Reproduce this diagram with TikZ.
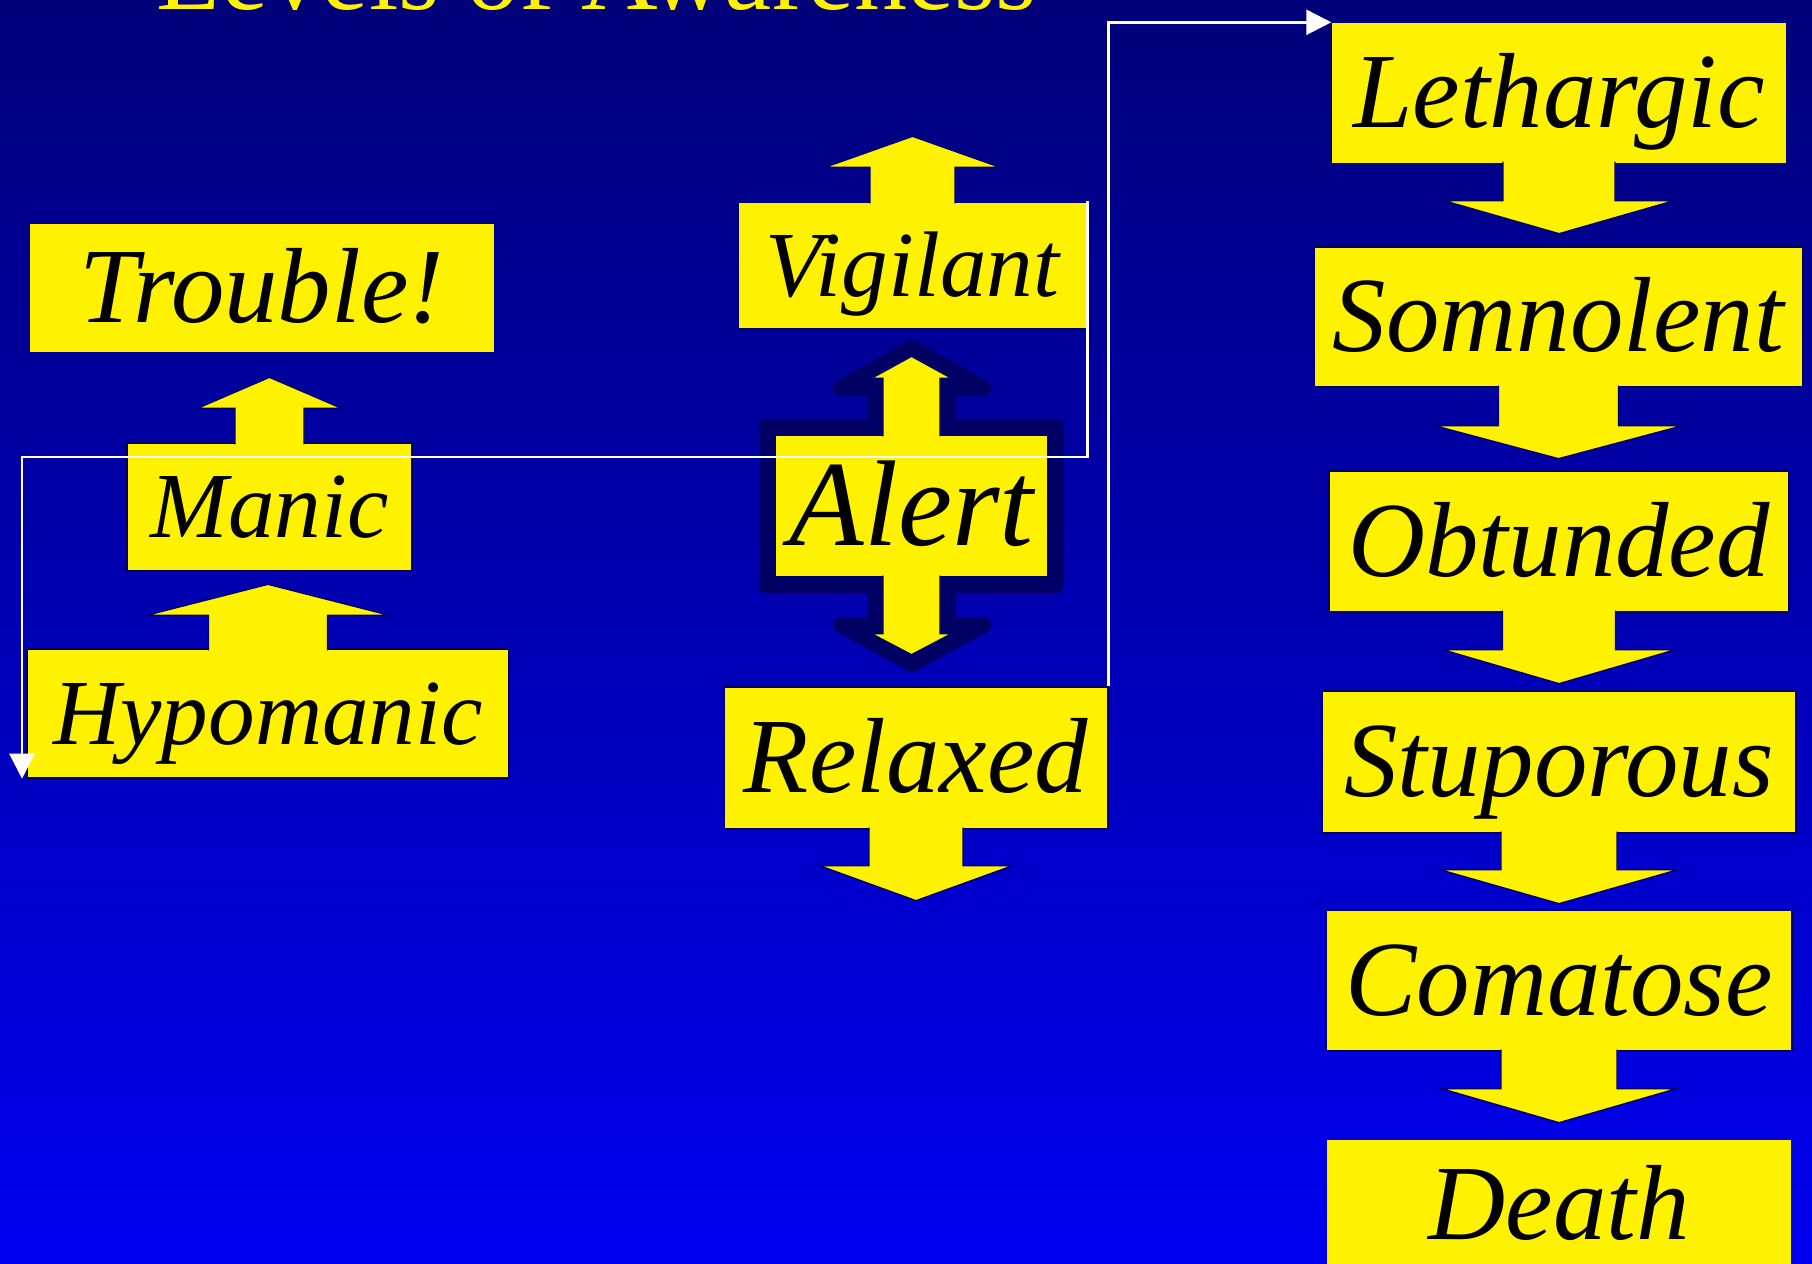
\documentclass[tikz,border=0pt]{standalone}
\usepackage{fontspec}
\setmainfont{Liberation Serif}
\usepackage{tikz}
\usetikzlibrary{arrows.meta}

\definecolor{bgtop}{RGB}{0,0,120}
\definecolor{bgbottom}{RGB}{0,0,240}
\definecolor{boxline}{RGB}{0,0,110}
\definecolor{haloblue}{RGB}{0,0,100}

\tikzset{
  stage/.style={fill=yellow,draw=boxline,line width=0.4pt,inner sep=0pt,
    font=\itshape\fontsize{30.4}{36}\selectfont,text height=19.9pt,text depth=0pt},
  smallstage/.style={stage,font=\itshape\fontsize{26.5}{32}\selectfont,text height=17.4pt},
  bigstage/.style={stage,font=\itshape\fontsize{34.7}{42}\selectfont,text height=22.7pt},
  bare/.style={draw=none},
  arrowbody/.style={fill=yellow,draw=boxline,line width=0.4pt},
  halo/.style={fill=haloblue,draw=haloblue,line width=1.6mm,line join=round},
  link/.style={draw=white,line width=0.7pt,-{Triangle[length=2.5mm,width=2.5mm]}},
  heading/.style={text=yellow,anchor=base,inner sep=0pt,
    font=\fontsize{30.2}{36}\selectfont}
}

\newcommand{\blockarrow}[6]{%
  \begin{scope}[shift={(#1)},yscale=#2]
    \filldraw[arrowbody]
      (-#5,-2)
      --
      (-#5,#3)
      --
      (-#6,#3)
      --
      (0,#3+#4)
      --
      (#6,#3)
      --
      (#5,#3)
      --
      (#5,-2);
  \end{scope}}

\begin{document}
\begin{tikzpicture}[x=0.1mm,y=-0.1mm]
  \useasboundingbox
    (0,0)
    rectangle
    (1812,1264);
  \clip
    (0,0)
    rectangle
    (1812,1264);
  \shade[top color=bgtop,bottom color=bgbottom]
    (0,0)
    rectangle
    (1812,1264);
  \node[heading] (title) at (597,10) {Levels of Awareness};

  \filldraw[halo]
    (767,427) -- (875,427) -- (875,388) -- (841,388) -- (912,348)
    -- (983,388) -- (948,388) -- (948,427) -- (1056,427) -- (1056,585)
    -- (948,585) -- (948,625) -- (983,625) -- (912,664) -- (841,625)
    -- (875,625) -- (875,585) -- (767,585) -- cycle;

  \node[stage,bare,minimum width=46.4mm,minimum height=12.8mm]
    (Trouble) at (262,288) {Trouble!};
  \node[smallstage,minimum width=28.5mm,minimum height=12.8mm]
    (Manic) at (269.5,507) {Manic};
  \node[smallstage,minimum width=48.2mm,minimum height=12.9mm]
    (Hypomanic) at (268,713.5) {Hypomanic};

  \node[smallstage,minimum width=34.9mm,minimum height=12.7mm]
    (Vigilant) at (912.5,265.5) {Vigilant};
  \node[bigstage,minimum width=27.3mm,minimum height=14.2mm]
    (Alert) at (911.5,506) {Alert};
  \node[stage,minimum width=38.4mm,minimum height=14.2mm]
    (Relaxed) at (916,758) {Relaxed};

  \node[stage,bare,minimum width=45.4mm,minimum height=14.0mm]
    (Lethargic) at (1559,93) {Lethargic};
  \node[stage,minimum width=48.9mm,minimum height=14.0mm]
    (Somnolent) at (1558.5,317) {Somnolent};
  \node[stage,minimum width=46.0mm,minimum height=14.1mm]
    (Obtunded) at (1559,541.5) {Obtunded};
  \node[stage,minimum width=47.4mm,minimum height=14.2mm]
    (Stuporous) at (1559,762) {Stuporous};
  \node[stage,minimum width=46.6mm,minimum height=14.1mm]
    (Comatose) at (1559,980.5) {Comatose};
  \node[stage,bare,minimum width=46.4mm,minimum height=13.0mm]
    (Death) at (1559,1205) {Death};

  \blockarrow{Hypomanic.north}{-1}{33}{31}{59.5}{121.5}
  \blockarrow{Manic.north}{-1}{34}{31}{34.5}{72}
  \blockarrow{Vigilant.north}{-1}{34}{31}{42.5}{87.5}
  \blockarrow{Alert.north}{-1}{56}{22}{28.5}{40}
  \blockarrow{Alert.south}{1}{56}{21}{28.5}{40}
  \blockarrow{Relaxed.south}{1}{36}{35}{47}{96.5}
  \blockarrow{Lethargic.south}{1}{37}{33}{56}{115}
  \blockarrow{Somnolent.south}{1}{38}{33}{60}{124}
  \blockarrow{Obtunded.south}{1}{37}{34}{56.5}{116.5}
  \blockarrow{Stuporous.south}{1}{36}{34}{58}{119}
  \blockarrow{Comatose.south}{1}{37}{34}{58}{117.5}

  \coordinate (bend) at (22,457);
  \draw[link]
    (Vigilant.north east)
    |-
    (bend)
    --
    (bend |- Hypomanic.south west);
  \draw[link]
    (Relaxed.north east)
    |-
    (Lethargic.north west);
\end{tikzpicture}
\end{document}
